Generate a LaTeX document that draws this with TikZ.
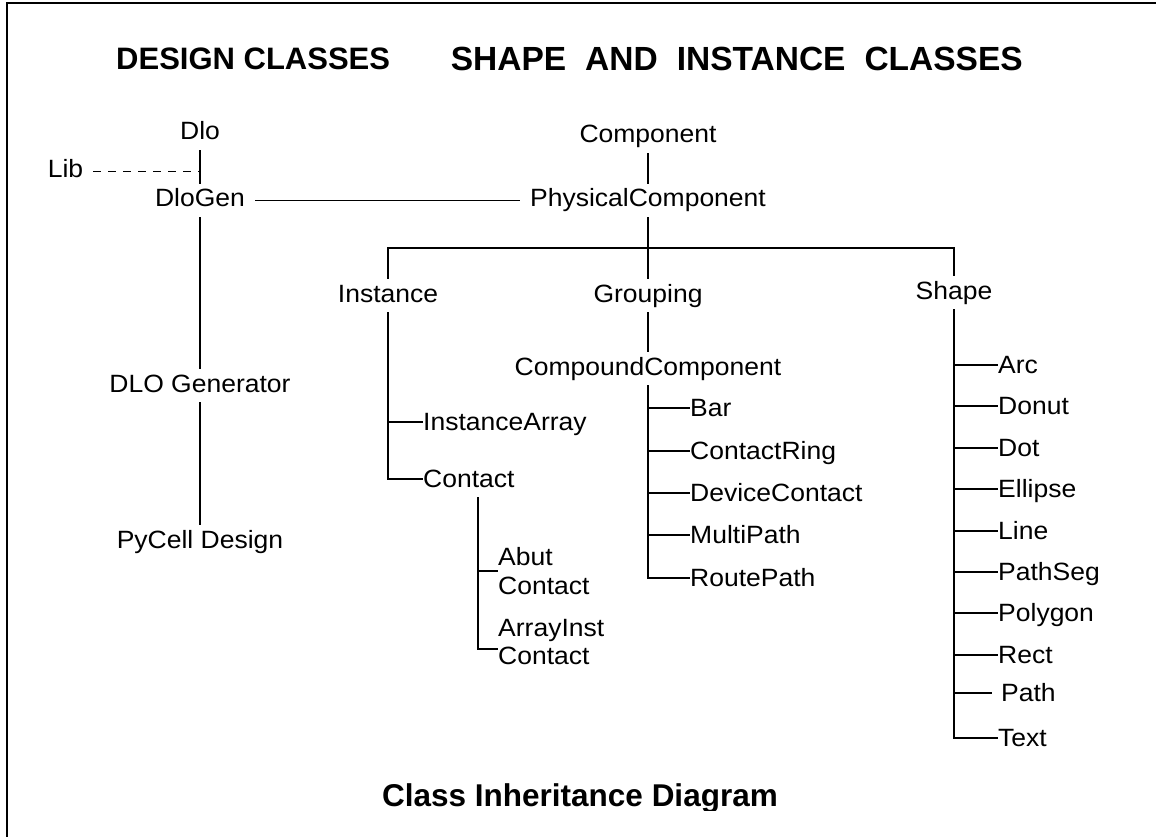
\documentclass[tikz,border=0pt]{standalone}
\usepackage{fontspec}
\setmainfont{Liberation Sans}[FakeStretch=1.06]
\newfontfamily\headfont{Liberation Sans}
\begin{document}
\begin{tikzpicture}[x=1pt,y=-1pt,
  lbl/.style={font=\fontsize{25}{28}\selectfont, text height=18pt, text depth=5pt, inner xsep=10pt, inner ysep=5pt, anchor=base},
  leaf/.style={font=\fontsize{25}{28}\selectfont, text height=18pt, text depth=2pt, inner sep=0pt, anchor=west},
  multi/.style={font=\fontsize{25}{28.5}\selectfont, align=left, inner sep=0pt, anchor=west},
  head/.style={font=\headfont\fontsize{31}{36}\selectfont\bfseries, inner sep=0pt},
  conn/.style={line width=1.8pt},
  dashconn/.style={line width=1.8pt, dash pattern=on 8pt off 7pt},
  frame/.style={line width=2pt}]
\useasboundingbox (0,0) rectangle (1156,837);
\draw[frame] (6.5,837) -- (6.5,3) -- (1156,3);

% headings
\node[head, anchor=base west] (h1) at (116,70) {DESIGN CLASSES};
\node[head, anchor=base east, font=\headfont\fontsize{33.5}{36}\selectfont\bfseries] (h2) at (1023,71) {\makebox[572pt][s]{SHAPE AND INSTANCE CLASSES}};

% design classes
\node[lbl] (dlo) at (200,140) {Dlo};
\node[lbl] (lib) at (65.5,178) {Lib};
\node[lbl] (dlogen) at (200,207) {DloGen};
\node[lbl] (dlogenr) at (200,392) {DLO Generator};
\node[lbl] (pycell) at (200,548) {PyCell Design};
\draw[conn] (dlo.south) -- (dlogen.north);
\draw[dashconn] (lib.east) -- (lib.east -| dlo.south);
\draw[conn] (dlogen.south) -- (dlogenr.north);
\draw[conn] (dlogenr.south) -- (pycell.north);

% shape and instance classes
\node[lbl] (comp) at (648,143) {Component};
\node[lbl] (phys) at (648,207) {PhysicalComponent};
\draw[conn] (dlogen.east) -- (phys.west);
\draw[conn] (comp.south) -- (phys.north);
\coordinate (bus) at (648,248);
\node[lbl] (inst) at (388,302) {Instance};
\node[lbl] (grp) at (648,302) {Grouping};
\node[lbl] (shape) at (954,299) {Shape};
\draw[conn] (phys.south) -- (grp.north);
\draw[conn] (inst.north) |- (bus) -| (shape.north);

% grouping branch
\node[lbl] (cc) at (648,375) {CompoundComponent};
\draw[conn] (grp.south) -- (cc.north);
\node[leaf] (bar) at (690,408) {Bar};
\node[leaf] (ring) at (690,451) {ContactRing};
\node[leaf] (devc) at (690,493) {DeviceContact};
\node[leaf] (multi) at (690,535) {MultiPath};
\node[leaf] (route) at (690,578) {RoutePath};
\draw[conn] (cc.south) |- (route.west);
\foreach \n in {bar,ring,devc,multi} \draw[conn] (cc.south |- \n.west) -- (\n.west);

% instance branch
\node[leaf] (iarr) at (423,422) {InstanceArray};
\node[leaf] (contact) at (423,479) {Contact};
\draw[conn] (inst.south) |- (contact.west);
\draw[conn] (inst.south |- iarr.west) -- (iarr.west);
\coordinate (cvtop) at (478,497);
\node[multi] (abut) at (498,571) {Abut\\Contact};
\node[multi] (arrinst) at (498,642) {ArrayInst\\Contact};
\draw[conn] (cvtop) |- ([yshift=-7pt]arrinst.west);
\draw[conn] (cvtop |- abut.west) -- (abut.west);

% shape branch
\node[leaf] (arc) at (998,365) {Arc};
\node[leaf] (donut) at (998,406) {Donut};
\node[leaf] (dot) at (998,448) {Dot};
\node[leaf] (ellipse) at (998,489) {Ellipse};
\node[leaf] (line) at (998,531) {Line};
\node[leaf] (pathseg) at (998,572) {PathSeg};
\node[leaf] (polygon) at (998,613) {Polygon};
\node[leaf] (rect) at (998,655) {Rect};
\node[leaf] (path) at (1001,693) {Path};
\node[leaf] (text) at (998,738) {Text};
\draw[conn] (shape.south) |- (text.west);
\foreach \n in {arc,donut,dot,ellipse,line,pathseg,polygon,rect} \draw[conn] (shape.south |- \n.west) -- (\n.west);
\draw[conn] (shape.south |- path.west) -- ([xshift=-9pt]path.west);

% title
\begin{scope}
\clip (0,0) rectangle (1156,810);
\node[head, anchor=base, font=\headfont\fontsize{31.5}{36}\selectfont\bfseries] (title) at (580,806) {Class Inheritance Diagram};
\end{scope}
\end{tikzpicture}
\end{document}
